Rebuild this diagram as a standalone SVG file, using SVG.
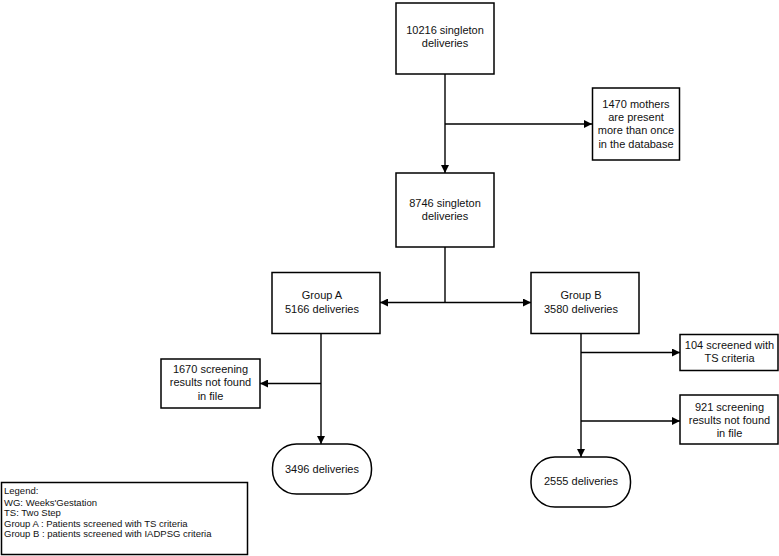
<svg xmlns="http://www.w3.org/2000/svg" width="779" height="556" viewBox="0 0 779 556">
<defs>
<marker id="ah" viewBox="0 0 10 10" refX="10" refY="5" markerWidth="8" markerHeight="8" markerUnits="userSpaceOnUse" orient="auto">
<path d="M0,0 L10,5 L0,10 Z" fill="#000"/>
</marker>
<style>
.box{fill:#fff;stroke:#000;stroke-width:1.5}
.t{font-family:"Liberation Sans",Arial,sans-serif;font-size:11px;fill:#111;text-anchor:middle}
.lg{font-family:"Liberation Sans",Arial,sans-serif;font-size:9.5px;fill:#111}
.c{fill:none;stroke:#000;stroke-width:1.4}
.a{marker-end:url(#ah)}
</style>
</defs>
<rect width="779" height="556" fill="#fff"/>
<g id="connectors">
<path class="c a" d="M445,74 V173"/>
<path class="c a" d="M445,124 H592"/>
<path class="c" d="M445,247 V302.5"/>
<path class="c a" d="M445,302.5 H380"/>
<path class="c a" d="M445,302.5 H531"/>
<path class="c a" d="M321,333 V444"/>
<path class="c a" d="M321,383.5 H260"/>
<path class="c a" d="M581,333 V457"/>
<path class="c a" d="M581,352.5 H680"/>
<path class="c a" d="M581,421 H680"/>
</g>
<g id="n10216">
<rect class="box" x="396" y="3" width="98" height="71"/>
<text class="t" x="445" y="33.5">10216 singleton</text>
<text class="t" x="445" y="47">deliveries</text>
</g>
<g id="n1470">
<rect class="box" x="592.5" y="88" width="87" height="72"/>
<text class="t" x="636" y="107.5">1470 mothers</text>
<text class="t" x="636" y="121">are present</text>
<text class="t" x="636" y="134">more than once</text>
<text class="t" x="636" y="147.5">in the database</text>
</g>
<g id="n8746">
<rect class="box" x="396" y="173" width="98" height="74"/>
<text class="t" x="445" y="206.5">8746 singleton</text>
<text class="t" x="445" y="220">deliveries</text>
</g>
<g id="groupA">
<rect class="box" x="272" y="272.5" width="108" height="61"/>
<text class="t" x="322" y="299">Group A</text>
<text class="t" x="322" y="312.5">5166 deliveries</text>
</g>
<g id="groupB">
<rect class="box" x="531" y="272.5" width="108" height="61"/>
<text class="t" x="581" y="299">Group B</text>
<text class="t" x="581" y="312.5">3580 deliveries</text>
</g>
<g id="n1670">
<rect class="box" x="161" y="359" width="99" height="49"/>
<text class="t" x="210.5" y="373">1670 screening</text>
<text class="t" x="210.5" y="386">results not found</text>
<text class="t" x="210.5" y="399.5">in file</text>
</g>
<g id="n104">
<rect class="box" x="680" y="334.5" width="98" height="36"/>
<text class="t" x="729.5" y="348.5">104 screened with</text>
<text class="t" x="729.5" y="362">TS criteria</text>
</g>
<g id="n921">
<rect class="box" x="680" y="395" width="98" height="49"/>
<text class="t" x="729.5" y="410.5">921 screening</text>
<text class="t" x="729.5" y="423.5">results not found</text>
<text class="t" x="729.5" y="436.5">in file</text>
</g>
<g id="n3496">
<rect class="box" x="272.5" y="444" width="99" height="50" rx="24" ry="24"/>
<text class="t" x="322" y="473">3496 deliveries</text>
</g>
<g id="n2555">
<rect class="box" x="531" y="457" width="99.5" height="50" rx="24" ry="24"/>
<text class="t" x="581" y="484.5">2555 deliveries</text>
</g>
<g id="legend">
<rect class="box" x="1.5" y="482.5" width="246" height="72"/>
<text class="lg" x="4" y="494">Legend:</text>
<text class="lg" x="4" y="505.5">WG: Weeks'Gestation</text>
<text class="lg" x="4" y="516">TS: Two Step</text>
<text class="lg" x="4" y="526.5">Group A : Patients screened with TS criteria</text>
<text class="lg" x="4" y="537">Group B : patients screened with IADPSG criteria</text>
</g>
</svg>
